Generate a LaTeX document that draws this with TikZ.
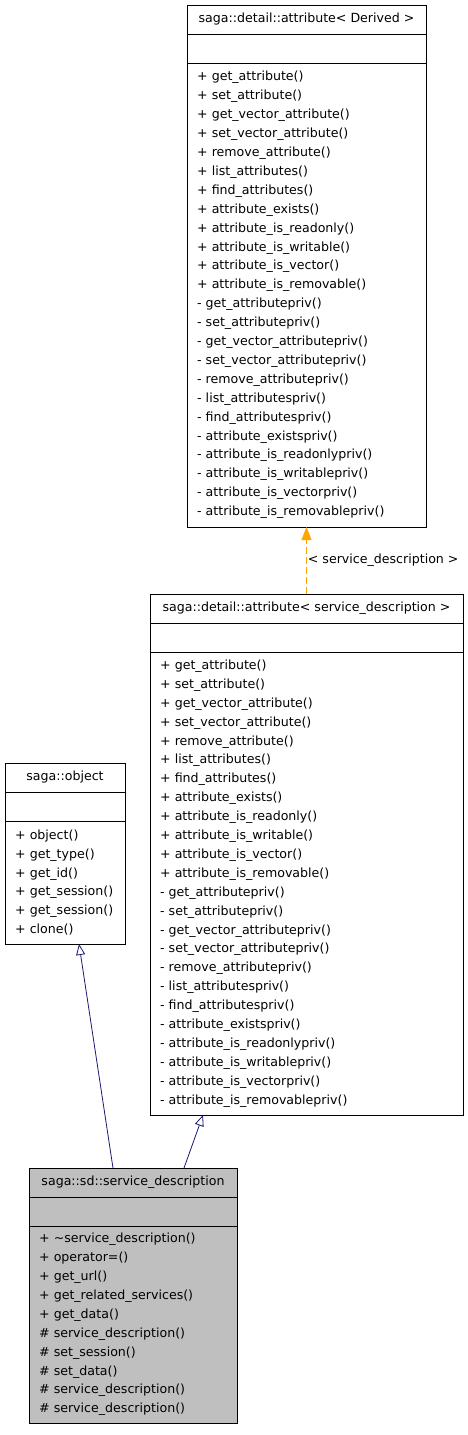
\documentclass[tikz,border=0pt]{standalone}
\usepackage{fontspec}
\setmainfont{DejaVu Sans}
\usepackage{tikz}
\usetikzlibrary{positioning,arrows.meta}
\definecolor{grisClasse}{HTML}{BFBFBF}
\definecolor{bleuNuit}{HTML}{191970}
\definecolor{orangeTpl}{HTML}{FFA500}
\newcommand{\policeClasse}{\fontsize{12.6}{18.9}\selectfont}
\tikzset{
  titre/.style={
    rectangle, draw=black, line width=0.8pt, outer sep=0pt, inner sep=0pt,
    minimum width=#1, minimum height=29pt, align=center, font=\policeClasse},
  vide/.style={titre=#1},
  membres/.style={
    rectangle, draw=black, line width=0.8pt, outer sep=0pt,
    inner xsep=10pt, inner ysep=0pt, text width=#1, align=left,
    font=\policeClasse},
  heritage/.style={-{Triangle[length=11pt, width=9pt, fill=white]},
    draw=bleuNuit, line width=0.8pt},
  modele/.style={-{Triangle[length=13pt, width=10pt]}, draw=orangeTpl,
    line width=0.8pt, dash pattern=on 7pt off 3pt},
  etiquette/.style={font=\policeClasse, inner sep=1pt}
}
\begin{document}
\begin{tikzpicture}[x=1pt, y=-1pt]
  \useasboundingbox (0,0) rectangle (468,1435);

  % --- saga::detail::attribute< Derived >
  \node[titre=239pt, anchor=north west] (derT) at (187,5)
    {saga::detail::attribute< Derived >};
  \node[vide=239pt, below=0pt of derT] (derV) {};
  \node[membres=219pt, minimum height=464pt, below=0pt of derV] (derM)
    {+ get\_attribute()\\+ set\_attribute()\\+ get\_vector\_attribute()\\
     + set\_vector\_attribute()\\+ remove\_attribute()\\+ list\_attributes()\\
     + find\_attributes()\\+ attribute\_exists()\\+ attribute\_is\_readonly()\\
     + attribute\_is\_writable()\\+ attribute\_is\_vector()\\
     + attribute\_is\_removable()\\- get\_attributepriv()\\
     - set\_attributepriv()\\- get\_vector\_attributepriv()\\
     - set\_vector\_attributepriv()\\- remove\_attributepriv()\\
     - list\_attributespriv()\\- find\_attributespriv()\\
     - attribute\_existspriv()\\- attribute\_is\_readonlypriv()\\
     - attribute\_is\_writablepriv()\\- attribute\_is\_vectorpriv()\\
     - attribute\_is\_removablepriv()};

  % --- saga::detail::attribute< service_description >
  \node[titre=313pt, anchor=north west] (attT) at (150,594)
    {saga::detail::attribute< service\_description >};
  \node[vide=313pt, below=0pt of attT] (attV) {};
  \node[membres=293pt, minimum height=463pt, below=0pt of attV] (attM)
    {+ get\_attribute()\\+ set\_attribute()\\+ get\_vector\_attribute()\\
     + set\_vector\_attribute()\\+ remove\_attribute()\\+ list\_attributes()\\
     + find\_attributes()\\+ attribute\_exists()\\+ attribute\_is\_readonly()\\
     + attribute\_is\_writable()\\+ attribute\_is\_vector()\\
     + attribute\_is\_removable()\\- get\_attributepriv()\\
     - set\_attributepriv()\\- get\_vector\_attributepriv()\\
     - set\_vector\_attributepriv()\\- remove\_attributepriv()\\
     - list\_attributespriv()\\- find\_attributespriv()\\
     - attribute\_existspriv()\\- attribute\_is\_readonlypriv()\\
     - attribute\_is\_writablepriv()\\- attribute\_is\_vectorpriv()\\
     - attribute\_is\_removablepriv()};

  % --- saga::object
  \node[titre=120pt, anchor=north west] (objT) at (5,763) {saga::object};
  \node[vide=120pt, below=0pt of objT] (objV) {};
  \node[membres=100pt, minimum height=123pt, below=0pt of objV] (objM)
    {+ object()\\+ get\_type()\\+ get\_id()\\+ get\_session()\\
     + get\_session()\\+ clone()};

  % --- saga::sd::service_description
  \node[titre=208pt, fill=grisClasse, anchor=north west] (sdT) at (29,1168)
    {saga::sd::service\_description};
  \node[vide=208pt, fill=grisClasse, below=0pt of sdT] (sdV) {};
  \node[membres=188pt, fill=grisClasse, minimum height=197pt, below=0pt of sdV] (sdM)
    {+ \textasciitilde service\_description()\\+ operator=()\\+ get\_url()\\
     + get\_related\_services()\\+ get\_data()\\\# service\_description()\\
     \# set\_session()\\\# set\_data()\\\# service\_description()\\
     \# service\_description()};

  % --- Liens
  \draw[modele] (attT.north) -- node[etiquette, right] {< service\_description >} (derM.south);
  \draw[heritage] ([xshift=-20pt]sdT.north) -- ([xshift=14pt]objM.south);
  \draw[heritage] ([xshift=51pt]sdT.north) -- ([xshift=-103.5pt]attM.south);

\end{tikzpicture}
\end{document}
